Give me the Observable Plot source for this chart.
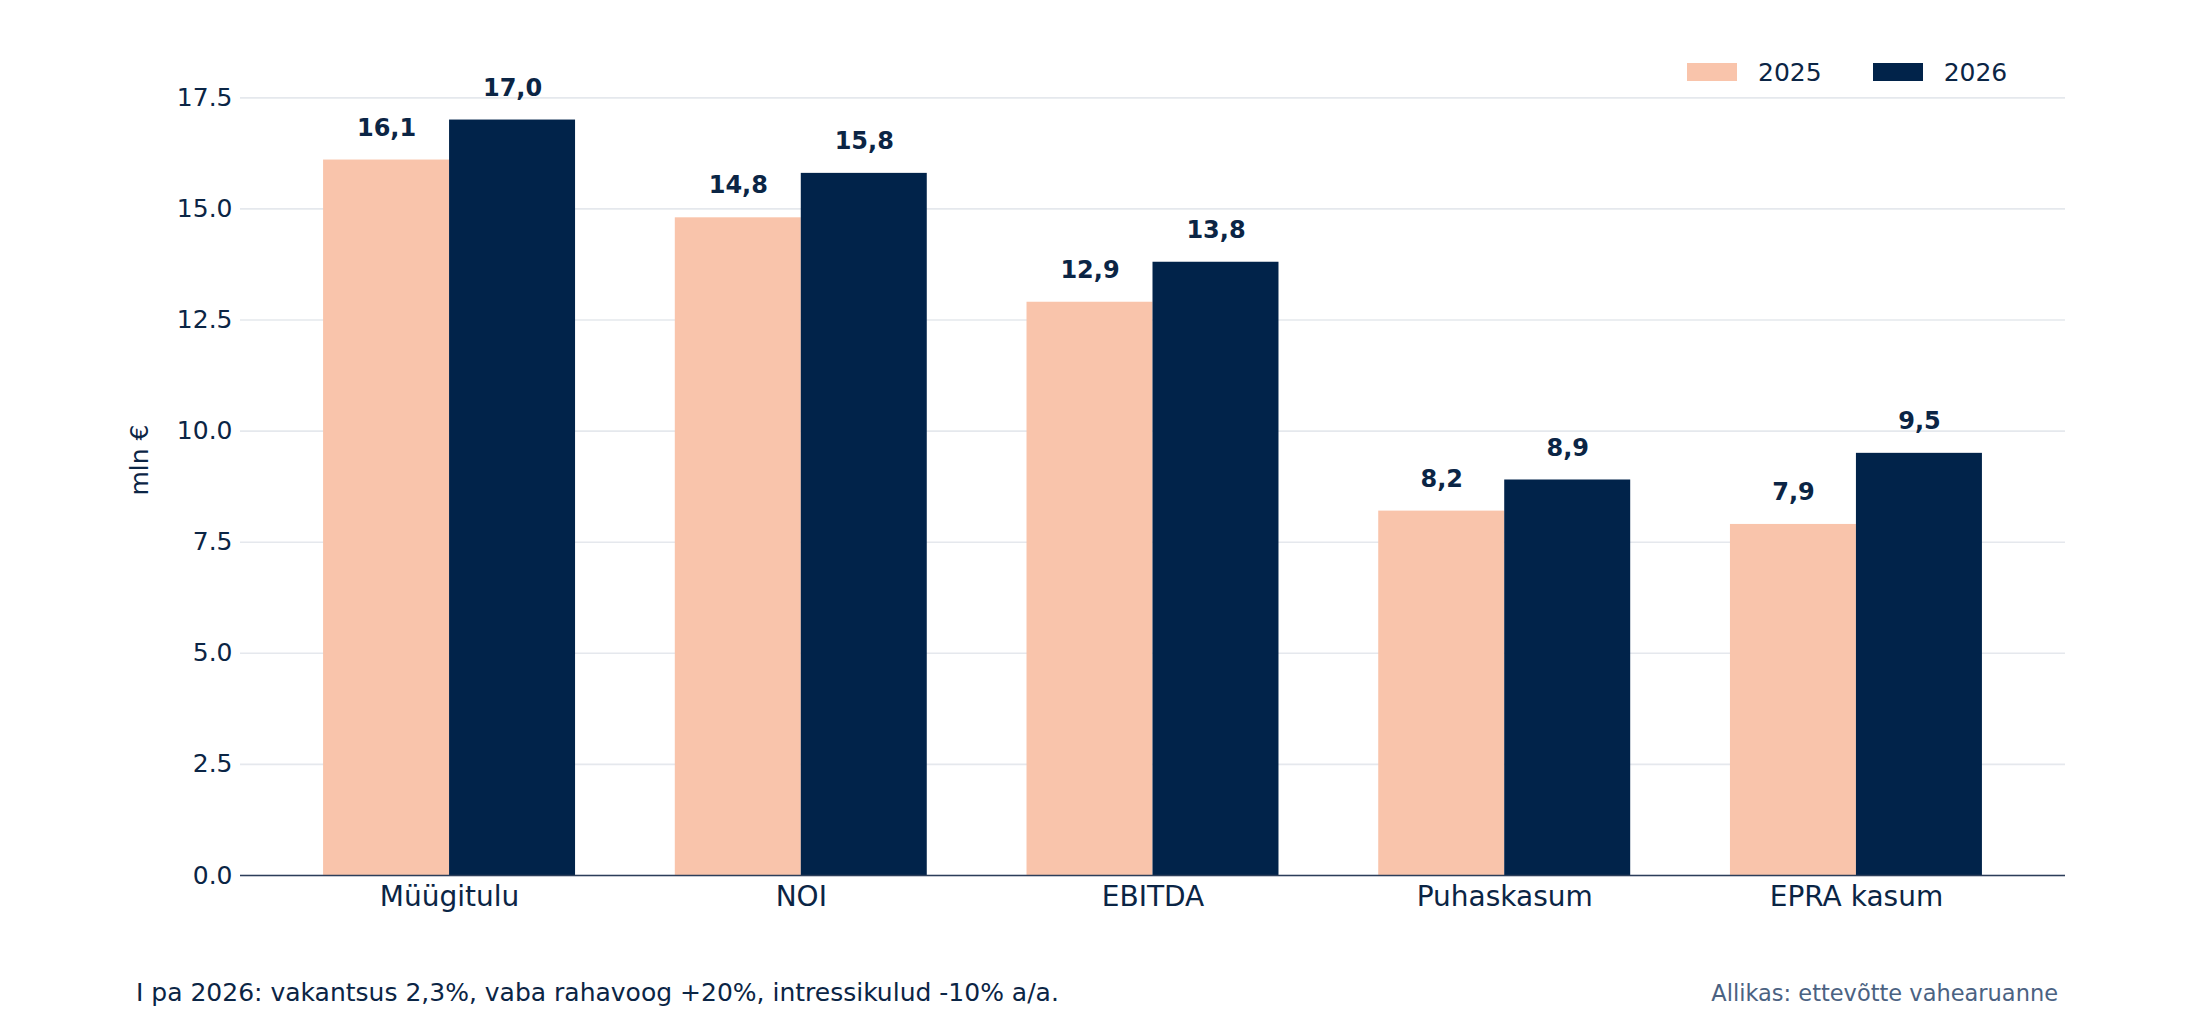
<!DOCTYPE html>
<html>
<head>
<meta charset="utf-8">
<script src="https://cdn.jsdelivr.net/npm/d3@7"></script>
<script src="https://cdn.jsdelivr.net/npm/@observablehq/plot@0.6"></script>
<style>
  html, body { margin: 0; padding: 0; background: #ffffff; }
  #wrap { position: relative; width: 2196px; height: 1023px; font-family: "DejaVu Sans", sans-serif; color: #0b2545; }
  #chart svg { display: block; }
  .legend { position: absolute; top: 56px; left: 1687px; height: 32px; display: flex; align-items: center; font-size: 25px; color: #0b2545; }
  .legend .sw { width: 50px; height: 18px; display: inline-block; }
  .legend .lab { margin-left: 21px; margin-right: 51px; }
  .caption { position: absolute; top: 978px; left: 136px; font-size: 25px; line-height: 30px; color: #0b2545; white-space: nowrap; }
  .source { position: absolute; top: 979px; right: 138px; font-size: 22.5px; line-height: 28px; color: #4b6282; white-space: nowrap; }
</style>
</head>
<body>
<div id="wrap">
  <div id="chart"></div>
  <div class="legend" id="legend"></div>
  <div class="caption">I pa 2026: vakantsus 2,3%, vaba rahavoog +20%, intressikulud -10% a/a.</div>
  <div class="source">Allikas: ettevõtte vahearuanne</div>
</div>
<script>
const categories = ["Müügitulu", "NOI", "EBITDA", "Puhaskasum", "EPRA kasum"];
const years = ["2025", "2026"];
const values2025 = [16.1, 14.8, 12.9, 8.2, 7.9];
const values2026 = [17.0, 15.8, 13.8, 8.9, 9.5];
const yTicks = [0, 2.5, 5, 7.5, 10, 12.5, 15, 17.5];
const yLabel = "mln €";

const colors = ["#f9c4ab", "#01234a"];
const navy = "#0b2545";

const W = 2196, H = 940, ML = 240, MR = 131, MT = 44, MB = 65;
const padIn = 0.2836, padOut = 0.2362;

const data = [];
categories.forEach((c, i) => {
  data.push({cat: c, year: years[0], value: values2025[i]});
  data.push({cat: c, year: years[1], value: values2026[i]});
});

// half of the category band, from the same band geometry used by Plot's x scale
const half = d3.scaleBand().domain(categories).range([ML, W - MR])
  .paddingInner(padIn).paddingOuter(padOut).bandwidth() / 2;

const fmt = v => v.toFixed(1).replace(".", ",");

const chart = Plot.plot({
  width: W,
  height: H,
  marginLeft: ML,
  marginRight: MR,
  marginTop: MT,
  marginBottom: MB,
  style: {fontFamily: "DejaVu Sans", color: navy, background: "white", overflow: "visible"},
  x: {domain: categories, paddingInner: padIn, paddingOuter: padOut, round: false},
  y: {domain: [0, 18.7]},
  color: {domain: years, range: colors},
  marks: [
    Plot.gridY(yTicks, {stroke: "#e5e8ed", strokeOpacity: 1, strokeWidth: 1.6}),
    Plot.axisY(yTicks, {
      tickSize: 0, tickPadding: 8, tickFormat: d3.format(".1f"),
      fontSize: 25, label: yLabel, labelAnchor: "center", labelOffset: 110, labelArrow: "none"
    }),
    Plot.barY(data.filter(d => d.year === years[0]), {x: "cat", y: "value", fill: "year", insetLeft: 0, insetRight: half}),
    Plot.barY(data.filter(d => d.year === years[1]), {x: "cat", y: "value", fill: "year", insetLeft: half, insetRight: 0}),
    Plot.ruleY([0], {stroke: "#2c3e5a", strokeWidth: 1.5}),
    Plot.text(data.filter(d => d.year === years[0]), {
      x: "cat", y: "value", text: d => fmt(d.value),
      dx: -half / 2, dy: -32, fontSize: 24, fontWeight: "bold", fill: navy
    }),
    Plot.text(data.filter(d => d.year === years[1]), {
      x: "cat", y: "value", text: d => fmt(d.value),
      dx: half / 2, dy: -32, fontSize: 24, fontWeight: "bold", fill: navy
    }),
    Plot.axisX({tickSize: 0, tickPadding: 11, fontSize: 28, label: null})
  ]
});
document.getElementById("chart").appendChild(chart);

const legend = document.getElementById("legend");
years.forEach((y, i) => {
  const sw = document.createElement("span");
  sw.className = "sw";
  sw.style.background = colors[i];
  const lab = document.createElement("span");
  lab.className = "lab";
  lab.textContent = y;
  legend.appendChild(sw);
  legend.appendChild(lab);
});
</script>
</body>
</html>
